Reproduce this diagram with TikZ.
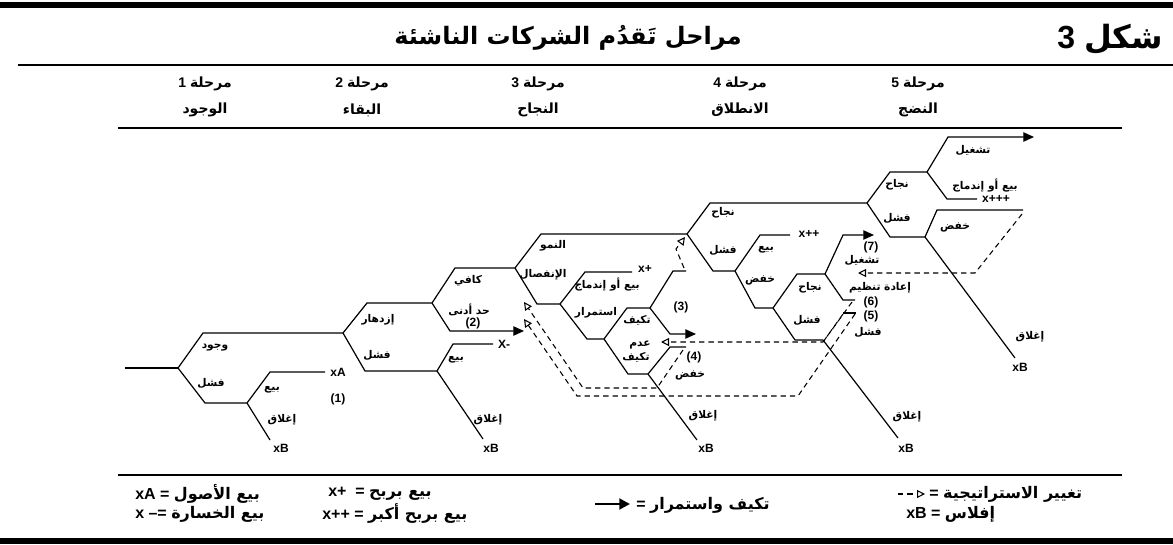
\documentclass[tikz,border=0pt]{standalone}
\usepackage{fontspec}
\setmainfont{Liberation Sans}
\newfontfamily\arfont[Script=Arabic,BoldFont={DejaVu Sans Bold}]{DejaVu Sans}
\usetikzlibrary{arrows.meta}
\TeXXeTstate=1
\newcommand{\rtl}[1]{\hbox{\arfont\bfseries\beginR #1\endR}}
\begin{document}
\begin{tikzpicture}[x=0.75pt,y=-0.75pt,
  ln/.style={line width=0.9pt},
  dsh/.style={line width=0.8pt, dash pattern=on 4pt off 3pt},
  lbl/.style={font=\arfont\bfseries\fontsize{8}{9}\selectfont, inner sep=0pt},
  lat/.style={font=\bfseries\fontsize{9}{10}\selectfont, inner sep=0pt},
  hdr/.style={font=\bfseries\fontsize{10.5}{12}\selectfont, inner sep=0pt},
  leg/.style={font=\bfseries\fontsize{12}{14}\selectfont, inner sep=0pt, anchor=west},
  big/.style={font=\bfseries\fontsize{24}{28}\selectfont, inner sep=0pt},
  farr/.style={-{Triangle[length=8pt,width=7pt]}},
  oarr/.style={-{Triangle[open,length=6pt,width=6pt]}},
  rule/.style={line width=1.8pt},
  bar/.style={line width=4pt}]
\useasboundingbox (0,0) rectangle (1173,545);

% ---------- header ----------
\draw[bar] (0,5) -- (1173,5);
\node[big,anchor=base east] (fig) at (1163,49) {3\ \rtl{شكل}};
\node[font=\arfont\bfseries\fontsize{18}{21}\selectfont, inner sep=0pt] (title) at (568,38) {\rtl{مراحل تَقدُم الشركات الناشئة}};
\draw[rule] (18,65) -- (1173,65);
\node[hdr] (p1) at (205,84) {1\ \rtl{مرحلة}};
\node[hdr] (p2) at (362,84) {2\ \rtl{مرحلة}};
\node[hdr] (p3) at (538,84) {3\ \rtl{مرحلة}};
\node[hdr] (p4) at (740,84) {4\ \rtl{مرحلة}};
\node[hdr] (p5) at (918,84) {5\ \rtl{مرحلة}};
\node[hdr] (n1) at (205,110) {\rtl{الوجود}};
\node[hdr] (n2) at (362,110) {\rtl{البقاء}};
\node[hdr] (n3) at (538,110) {\rtl{النجاح}};
\node[hdr] (n4) at (740,110) {\rtl{الانطلاق}};
\node[hdr] (n5) at (918,110) {\rtl{النضج}};
\draw[rule] (118,128) -- (1122,128);

% ---------- coordinates ----------
\coordinate (s0) at (125,368);
\coordinate (f1) at (178,368);
\coordinate (f1b) at (247,403);
\coordinate (f2) at (343,333);
\coordinate (f2b) at (437,371);
\coordinate (f3) at (432,303);
\coordinate (f4) at (515,268);
\coordinate (f5) at (560,304);
\coordinate (f6) at (687,234);
\coordinate (f7) at (604,339);
\coordinate (f8) at (650,308);
\coordinate (f9) at (648,374);
\coordinate (f10) at (867,203);
\coordinate (f11) at (735,271);
\coordinate (f12) at (773,308);
\coordinate (f13) at (825,274);
\coordinate (f14) at (823,340);
\coordinate (f15) at (927,172);
\coordinate (f16) at (925,237);

% ---------- solid tree ----------
\draw[ln] (s0) -- (f1);
\draw[ln] (f1) -- (203,333) -- (f2);
\draw[ln] (f1) -- (205,403) -- (f1b);
\draw[ln] (f1b) -- (270,372) -- (325,372);
\draw[ln] (f1b) -- (270,440);
\draw[ln] (f2) -- (367,303) -- (f3);
\draw[ln] (f2) -- (365,371) -- (f2b);
\draw[ln] (f2b) -- (453,344) -- (493,344);
\draw[ln] (f2b) -- (483,439);
\draw[ln] (f3) -- (455,268) -- (f4);
\draw[ln,farr] (f3) -- (450,331) -- (524,331);
\draw[ln] (f4) -- (541,234) -- (f6);
\draw[ln] (f4) -- (537,304) -- (f5);
\draw[ln] (f5) -- (585,272) -- (632,272);
\draw[ln] (f5) -- (587,339) -- (f7);
\draw[ln] (f7) -- (627,308) -- (f8);
\draw[ln] (f7) -- (628,374) -- (f9);
\draw[ln] (f8) -- (673,271) -- (686,271);
\draw[ln,farr] (f8) -- (670,334) -- (696,334);
\draw[ln] (f9) -- (670,347) -- (686,347);
\draw[ln] (f9) -- (697,440);
\draw[ln] (f6) -- (710,203) -- (f10);
\draw[ln] (f6) -- (713,271) -- (f11);
\draw[ln] (f11) -- (760,235) -- (790,235);
\draw[ln] (f11) -- (755,308) -- (f12);
\draw[ln] (f12) -- (797,274) -- (f13);
\draw[ln] (f12) -- (795,340) -- (f14);
\draw[ln,farr] (f13) -- (843,235) -- (874,235);
\draw[ln] (f13) -- (843,300) -- (855,300);
\draw[ln] (843,313) -- (856,313);
\draw[ln] (f14) -- (898,438);
\draw[ln] (f10) -- (890,172) -- (f15);
\draw[ln] (f10) -- (890,237) -- (f16);
\draw[ln,farr] (f15) -- (948,137) -- (1034,137);
\draw[ln] (f15) -- (947,199) -- (977,199);
\draw[ln] (f16) -- (937,210) -- (1023,210);
\draw[ln] (f16) -- (1015,358);

% ---------- dashed strategy changes ----------
\draw[dsh,oarr] (684,268) -- (676,249) -- (685,237);
\draw[dsh,oarr] (683,350) -- (657,388) -- (583,388) -- (524,302);
\draw[dsh,oarr] (855,314) -- (798,396) -- (577,396) -- (524,319);
\draw[dsh] (843,314) -- (823,342);
\draw[dsh,oarr] (852,302) -- (823,342) -- (661,342);
\draw[dsh,oarr] (1022,214) -- (975,273) -- (858,273);

% ---------- labels stage 1 ----------
\node[lbl] (a1) at (215,348) {\rtl{وجود}};
\node[lbl] (a2) at (211,383) {\rtl{فشل}};
\node[lbl] (a3) at (272,390) {\rtl{بيع}};
\node[lbl] (a4) at (282,420) {\rtl{إغلاق}};
\node[lat] (xa) at (338,372) {xA};
\node[lat] (c1) at (338,399) {(1)};
\node[lat] (xb1) at (281,448) {xB};
% stage 2
\node[lbl] (b1) at (378,320) {\rtl{إزدهار}};
\node[lbl] (b2) at (377,355) {\rtl{فشل}};
\node[lbl] (b3) at (468,281) {\rtl{كافي}};
\node[lbl] (b4) at (469,310) {\rtl{حد أدنى}};
\node[lat] (c2) at (473,323) {(2)};
\node[lat] (xm) at (504,344) {X-};
\node[lbl] (b5) at (456,360) {\rtl{بيع}};
\node[lbl] (b6) at (488,420) {\rtl{إغلاق}};
\node[lat] (xb2) at (491,448) {xB};
% stage 3
\node[lbl] (c3a) at (553,246) {\rtl{النمو}};
\node[lbl] (c3b) at (543,275) {\rtl{الإنفصال}};
\node[lbl] (c3c) at (607,285) {\rtl{بيع أو إندماج}};
\node[lat] (xp) at (645,269) {x+};
\node[lbl] (c3d) at (596,313) {\rtl{استمرار}};
\node[lbl] (c3e) at (637,320) {\rtl{تكيف}};
\node[lat] (c3) at (681,307) {(3)};
\node[lbl] (c3f) at (640,345) {\rtl{عدم}};
\node[lbl] (c3g) at (636,357) {\rtl{تكيف}};
\node[lat] (c4) at (694,357) {(4)};
\node[lbl] (c3h) at (690,375) {\rtl{خفض}};
\node[lbl] (c3i) at (703,416) {\rtl{إغلاق}};
\node[lat] (xb3) at (706,448) {xB};
% stage 4
\node[lbl] (d1) at (723,213) {\rtl{نجاح}};
\node[lbl] (d2) at (723,250) {\rtl{فشل}};
\node[lbl] (d3) at (766,250) {\rtl{بيع}};
\node[lat] (xpp) at (809,234) {x++};
\node[lbl] (d4) at (760,280) {\rtl{خفض}};
\node[lbl] (d5) at (810,288) {\rtl{نجاح}};
\node[lbl] (d6) at (807,320) {\rtl{فشل}};
\node[lat] (c7) at (871,247) {(7)};
\node[lbl] (d7) at (862,260) {\rtl{تشغيل}};
\node[lbl] (d8) at (880,288) {\rtl{إعادة تنظيم}};
\node[lat] (c6) at (871,302) {(6)};
\node[lat] (c5) at (871,316) {(5)};
\node[lbl] (d9) at (868,332) {\rtl{فشل}};
\node[lbl] (d10) at (907,417) {\rtl{إغلاق}};
\node[lat] (xb4) at (906,448) {xB};
% stage 5
\node[lbl] (e1) at (897,185) {\rtl{نجاح}};
\node[lbl] (e2) at (897,218) {\rtl{فشل}};
\node[lbl] (e3) at (973,150) {\rtl{تشغيل}};
\node[lbl] (e4) at (985,186) {\rtl{بيع أو إندماج}};
\node[lat] (xppp) at (996,199) {x+++};
\node[lbl] (e5) at (955,227) {\rtl{خفض}};
\node[lbl] (e6) at (1030,337) {\rtl{إغلاق}};
\node[lat] (xb5) at (1020,367) {xB};

% ---------- legend ----------
\draw[rule] (118,475) -- (1122,475);
\node[leg] (g1) at (135,494) {xA = \rtl{بيع الأصول}};
\node[leg] (g2) at (135,514) {x --= \rtl{بيع الخسارة}};
\node[leg] (g3) at (328,494) {x+ \ = \rtl{بيع بربح}};
\node[leg] (g4) at (322,514) {x++ = \rtl{بيع بربح أكبر}};
\coordinate (ga) at (595,504);
\coordinate (gb) at (630,504);
\draw[line width=2pt,-{Triangle[length=8pt,width=8pt]}] (ga) -- (gb);
\node[leg] (g5) at (636,505) {= \rtl{تكيف واستمرار}};
\coordinate (gc) at (898,494);
\coordinate (gd) at (925,494);
\draw[dsh,oarr] (gc) -- (gd);
\node[leg] (g6) at (929,494) {= \rtl{تغيير الاستراتيجية}};
\node[leg] (g7) at (906,514) {xB = \rtl{إفلاس}};
\draw[bar] (0,541) -- (1173,541);
\end{tikzpicture}
\end{document}
